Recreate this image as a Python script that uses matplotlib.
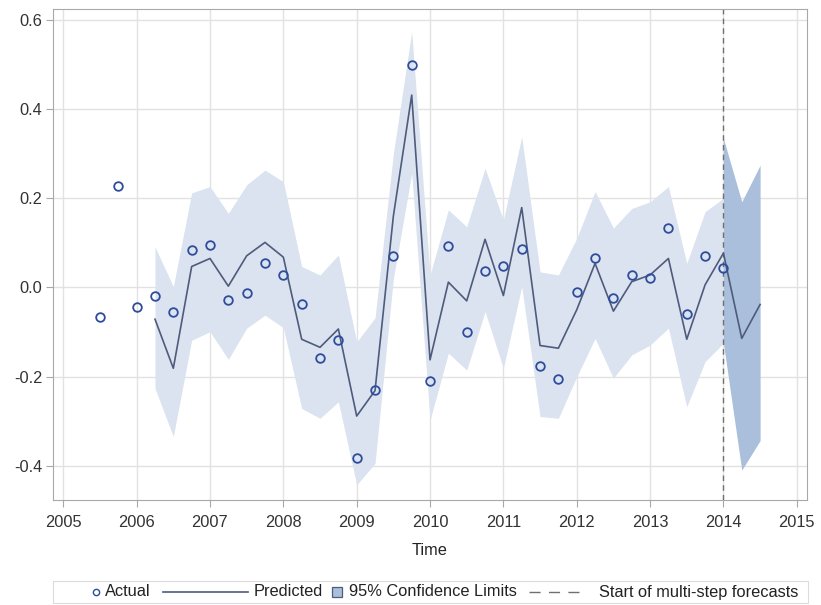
import numpy as np
import matplotlib
matplotlib.use("Agg")
import matplotlib.pyplot as plt
from matplotlib.lines import Line2D
from matplotlib.patches import Rectangle

plt.rcParams['font.family'] = ['Liberation Sans', 'DejaVu Sans']

# quarterly observations
actual_t = np.arange(2005.5, 2014.01, 0.25)
actual = [-0.065, 0.227, -0.043, -0.018, -0.056, 0.084, 0.095, -0.028, -0.012,
          0.055, 0.027, -0.037, -0.157, -0.118, -0.381, -0.230, 0.070, 0.498,
          -0.209, 0.093, -0.099, 0.038, 0.049, 0.086, -0.175, -0.206, -0.009,
          0.065, -0.024, 0.028, 0.021, 0.133, -0.059, 0.071, 0.044]

# one-step-ahead predictions plus forecasts
pred_t = np.arange(2006.25, 2014.51, 0.25)
predicted = [-0.071, -0.181, 0.047, 0.065, 0.003, 0.071, 0.101, 0.068, -0.116,
             -0.134, -0.093, -0.288, -0.231, 0.160, 0.431, -0.162, 0.012, -0.030,
             0.108, -0.018, 0.179, -0.130, -0.136, -0.050, 0.054, -0.053, 0.013,
             0.028, 0.065, -0.116, 0.006, 0.077, -0.114, -0.038]

# 95% limits over the fitted period
ci_t = np.arange(2006.25, 2014.01, 0.25)
ci_upper = [0.091, 0.002, 0.212, 0.226, 0.166, 0.230, 0.263, 0.237, 0.047, 0.028,
            0.073, -0.122, -0.068, 0.300, 0.573, 0.028, 0.174, 0.136, 0.267, 0.151,
            0.338, 0.035, 0.028, 0.110, 0.215, 0.133, 0.177, 0.192, 0.226, 0.054,
            0.170, 0.200]
ci_lower = [-0.226, -0.334, -0.118, -0.099, -0.161, -0.091, -0.062, -0.090, -0.271,
            -0.293, -0.256, -0.442, -0.394, 0.020, 0.256, -0.297, -0.147, -0.185,
            -0.054, -0.181, 0.002, -0.289, -0.293, -0.200, -0.114, -0.203, -0.151,
            -0.129, -0.091, -0.267, -0.166, -0.125]

# limits over the multi-step forecast horizon
fc_t = [2014.0, 2014.25, 2014.5]
fc_upper = [0.334, 0.192, 0.274]
fc_lower = [-0.125, -0.409, -0.343]

forecast_start = 2014.0

band_light = '#dae3ef'
band_dark = '#a9bfdc'
line_col = '#4f5b7c'
mark_col = '#2e4c9c'
dash_col = '#707070'

W, H = 821, 605
fig = plt.figure(figsize=(W / 100, H / 100), dpi=100)
ax = fig.add_axes([0.0646, 0.1736, 0.9184, 0.8116])

ax.fill_between(ci_t, ci_lower, ci_upper, color=band_light, lw=0, zorder=1)
ax.fill_between(fc_t, fc_lower, fc_upper, color=band_dark, lw=0, zorder=1)
ax.plot(pred_t, predicted, color=line_col, lw=1.2, zorder=3)
ax.plot(actual_t, actual, 'o', ms=6.2, mfc='none', mec=mark_col, mew=1.3, zorder=4)
ax.axvline(forecast_start, color=dash_col, lw=1, ls=(0, (4, 3)), zorder=2)

ax.set_xlim(2004.86, 2015.14)
ax.set_ylim(-0.476, 0.624)
ax.set_xticks(range(2005, 2016))
ax.set_yticks([-0.4, -0.2, 0.0, 0.2, 0.4, 0.6])
ax.set_yticklabels(['-0.4', '-0.2', '0.0', '0.2', '0.4', '0.6'])
ax.grid(True, color='#e2e2e2', lw=1, zorder=0)
ax.set_axisbelow(True)
for s in ax.spines.values():
    s.set_color('#a8a8a8')
ax.tick_params(colors='#a8a8a8', labelcolor='#333333', labelsize=11.8, length=5)
ax.tick_params(axis='x', pad=6)
ax.tick_params(axis='y', pad=2.5)
ax.set_xlabel('Time', fontsize=11.8, color='#222222', labelpad=9)

# legend strip under the plot, laid out left to right in pixels
def fx(px):
    return px / W

def fy(py):
    return 1 - py / H

fig.add_artist(Rectangle((fx(53), fy(603)), fx(808) - fx(53), fy(581) - fy(603),
                         transform=fig.transFigure, facecolor='white',
                         edgecolor='#dcdcdc', lw=0.8))
rend = fig.canvas.get_renderer()
ly = fy(592)
leg_size = 11.8

def put_text(x, s):
    t = fig.text(fx(x), ly, s, fontsize=leg_size, color='#222222', va='center', ha='left')
    return x + t.get_window_extent(rend).width

x = 96
fig.add_artist(Line2D([fx(x)], [ly], ls='none', marker='o', ms=4.5, mfc='none',
                      mec=mark_col, mew=1.0, transform=fig.transFigure))
x = put_text(x + 9, 'Actual') + 12
fig.add_artist(Line2D([fx(x), fx(x + 85)], [ly, ly], color=line_col, lw=1.2,
                      transform=fig.transFigure))
x = put_text(x + 91, 'Predicted') + 9
fig.add_artist(Rectangle((fx(x), fy(597)), fx(10), fy(587) - fy(597),
                         transform=fig.transFigure, facecolor=band_dark,
                         edgecolor=line_col, lw=0.9))
x = put_text(x + 17, '95% Confidence Limits') + 12
fig.add_artist(Line2D([fx(x), fx(x + 55)], [ly, ly], color=dash_col, lw=1,
                      ls=(0, (8, 6)), transform=fig.transFigure))
put_text(x + 70, 'Start of multi-step forecasts')

fig.savefig('out.png', dpi=100)
